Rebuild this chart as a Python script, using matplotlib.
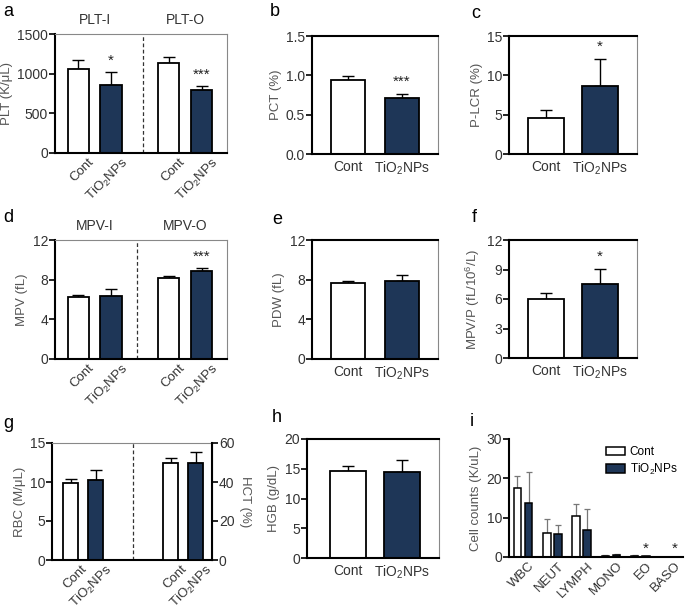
import matplotlib
matplotlib.use("Agg")
import matplotlib.pyplot as plt
import matplotlib.transforms as mtrans
import numpy as np

plt.rcParams['font.family'] = ['Liberation Sans', 'DejaVu Sans']
plt.rcParams['mathtext.fontset'] = 'custom'
plt.rcParams['mathtext.rm'] = 'Liberation Sans'
plt.rcParams['mathtext.it'] = 'Liberation Sans:italic'
plt.rcParams['mathtext.bf'] = 'Liberation Sans:bold'

# ---------------- data ----------------
groups = ['Cont', r'TiO$_2$NPs']

plt_i_mean = [1060, 860]; plt_i_err = [110, 160]
plt_o_mean = [1130, 790]; plt_o_err = [80, 50]
pct_mean = [0.94, 0.71]; pct_err = [0.05, 0.05]
plcr_mean = [4.6, 8.7]; plcr_err = [1.0, 3.4]
mpv_i_mean = [6.3, 6.4]; mpv_i_err = [0.15, 0.7]
mpv_o_mean = [8.2, 8.9]; mpv_o_err = [0.2, 0.25]
pdw_mean = [7.7, 7.9]; pdw_err = [0.2, 0.6]
mpvp_mean = [5.95, 7.55]; mpvp_err = [0.7, 1.55]
rbc_mean = [9.9, 10.3]; rbc_err = [0.5, 1.3]
hct_mean = [50.0, 49.6]; hct_err = [2.2, 5.8]
hgb_mean = [14.7, 14.5]; hgb_err = [0.8, 1.9]

cell_types = ['WBC', 'NEUT', 'LYMPH', 'MONO', 'EO', 'BASO']
cells_cont = [17.5, 6.0, 10.5, 0.2, 0.3, 0.02]
cells_cont_err = [3.2, 3.6, 3.1, 0.2, 0.1, 0.02]
cells_tio2 = [13.8, 5.9, 6.8, 0.4, 0.2, 0.01]
cells_tio2_err = [7.8, 2.2, 5.3, 0.4, 0.1, 0.01]

NAVY = '#1e3657'
GRAY_TXT = '#555555'
TICK_FS = 10
LAB_FS = 9.5
W, H = 685, 615
fig = plt.figure(figsize=(W / 100, H / 100), dpi=100)


def axpx(l, t, r, b):
    return fig.add_axes([l / W, 1 - b / H, (r - l) / W, (b - t) / H])


def style(ax, top_black=True):
    for s in ['left', 'bottom']:
        ax.spines[s].set_linewidth(1.5)
        ax.spines[s].set_color('black')
    if top_black:
        ax.spines['top'].set_linewidth(1.5)
        ax.spines['top'].set_color('black')
    else:
        ax.spines['top'].set_linewidth(0.8)
        ax.spines['top'].set_color('#888888')
    ax.spines['right'].set_linewidth(0.8)
    ax.spines['right'].set_color('#888888')
    ax.tick_params(axis='y', direction='out', length=4, width=1.2,
                   labelsize=TICK_FS, colors='black', labelcolor='#333333', pad=1)
    ax.tick_params(axis='x', length=0, labelsize=TICK_FS, labelcolor='#333333', pad=4)


def rot_labels(ax, labels, dx=7, fs=9.5):
    ax.tick_params(axis='x', pad=2)
    ax.set_xticklabels(labels, rotation=45, ha='right', rotation_mode='anchor', fontsize=fs)
    off = mtrans.ScaledTranslation(dx / 72, 0, fig.dpi_scale_trans)
    for lab in ax.get_xticklabels():
        lab.set_transform(lab.get_transform() + off)


def bars(ax, x, means, errs, colors, width, ecolor='black', capsize=4.3):
    ax.bar(x, means, width=width, color=colors, edgecolor='black',
           linewidth=1.3, zorder=2)
    lower = np.zeros(len(means))
    ax.errorbar(x, means, yerr=[lower, errs], fmt='none', ecolor=ecolor,
                elinewidth=1.0, capsize=capsize, capthick=1.0, zorder=1)


def star(ax, x, y, s):
    ax.text(x, y, s, ha='center', va='bottom', fontsize=11, color='#222222')


def ylab(ax, s):
    ax.set_ylabel(s, fontsize=LAB_FS, color=GRAY_TXT, labelpad=3)


def letter(x, y, s):
    fig.text(x / W, 1 - y / H, s, fontsize=13, ha='left', va='center')


# ---------- a ----------
ax = axpx(55, 34, 227, 153)
xa = [0, 1, 2.75, 3.75]
bars(ax, xa[:2], plt_i_mean, plt_i_err, ['white', NAVY], 0.64)
bars(ax, xa[2:], plt_o_mean, plt_o_err, ['white', NAVY], 0.64)
ax.axvline(1.97, color='#333333', ls=(0, (3, 2)), lw=0.9)
ax.set_xlim(-0.7, 4.52)
ax.set_ylim(0, 1500)
ax.set_yticks([0, 500, 1000, 1500])
style(ax, top_black=False)
ax.set_xticks(xa)
rot_labels(ax, groups * 2)
star(ax, 1, plt_i_mean[1] + plt_i_err[1] + 50, '*')
star(ax, 3.75, plt_o_mean[1] + plt_o_err[1] + 60, '***')
ylab(ax, 'PLT (K/μL)')
ax.text(0.5, 1.06, 'PLT-I', transform=ax.get_xaxis_transform(), ha='center', va='bottom', fontsize=10, color='#333333')
ax.text(3.25, 1.06, 'PLT-O', transform=ax.get_xaxis_transform(), ha='center', va='bottom', fontsize=10, color='#333333')

# ---------- b ----------
ax = axpx(312, 36, 438, 154)
bars(ax, [0, 1], pct_mean, pct_err, ['white', NAVY], 0.63)
ax.set_xlim(-0.67, 1.67); ax.set_ylim(0, 1.5)
ax.set_yticks([0, 0.5, 1.0, 1.5]); ax.set_yticklabels(['0.0', '0.5', '1.0', '1.5'])
style(ax)
ax.set_xticks([0, 1]); ax.set_xticklabels(groups)
star(ax, 1, pct_mean[1] + pct_err[1] + 0.07, '***')
ylab(ax, 'PCT (%)')

# ---------- c ----------
ax = axpx(509, 36, 637, 154)
bars(ax, [0, 1], plcr_mean, plcr_err, ['white', NAVY], 0.66)
ax.set_xlim(-0.69, 1.69); ax.set_ylim(0, 15)
ax.set_yticks([0, 5, 10, 15])
style(ax)
ax.set_xticks([0, 1]); ax.set_xticklabels(groups)
star(ax, 1, plcr_mean[1] + plcr_err[1] + 0.7, '*')
ylab(ax, 'P-LCR (%)')

# ---------- d ----------
ax = axpx(55, 240, 227, 359)
bars(ax, xa[:2], mpv_i_mean, mpv_i_err, ['white', NAVY], 0.64)
bars(ax, xa[2:], mpv_o_mean, mpv_o_err, ['white', NAVY], 0.64)
ax.axvline(1.79, color='#333333', ls=(0, (3, 2)), lw=0.9)
ax.set_xlim(-0.7, 4.52); ax.set_ylim(0, 12)
ax.set_yticks([0, 4, 8, 12])
style(ax, top_black=False)
ax.set_xticks(xa)
rot_labels(ax, groups * 2)
star(ax, 3.75, mpv_o_mean[1] + mpv_o_err[1] + 0.5, '***')
ylab(ax, 'MPV (fL)')
ax.text(0.5, 1.06, 'MPV-I', transform=ax.get_xaxis_transform(), ha='center', va='bottom', fontsize=10, color='#333333')
ax.text(3.25, 1.06, 'MPV-O', transform=ax.get_xaxis_transform(), ha='center', va='bottom', fontsize=10, color='#333333')

# ---------- e ----------
ax = axpx(312, 240, 438, 359)
bars(ax, [0, 1], pdw_mean, pdw_err, ['white', NAVY], 0.63)
ax.set_xlim(-0.67, 1.67); ax.set_ylim(0, 12)
ax.set_yticks([0, 4, 8, 12])
style(ax)
ax.set_xticks([0, 1]); ax.set_xticklabels(groups)
ylab(ax, 'PDW (fL)')

# ---------- f ----------
ax = axpx(509, 240, 637, 358)
bars(ax, [0, 1], mpvp_mean, mpvp_err, ['white', NAVY], 0.66)
ax.set_xlim(-0.69, 1.69); ax.set_ylim(0, 12)
ax.set_yticks([0, 3, 6, 9, 12])
style(ax)
ax.set_xticks([0, 1]); ax.set_xticklabels(groups)
star(ax, 1, mpvp_mean[1] + mpvp_err[1] + 0.5, '*')
ylab(ax, r'MPV/P (fL/10$^6$/L)')

# ---------- g ----------
ax = axpx(52, 443, 212, 560)
xg = [0, 1, 4, 5]
bars(ax, xg[:2], rbc_mean, rbc_err, ['white', NAVY], 0.6)
ax.axvline(2.5, color='#333333', ls=(0, (3, 2)), lw=0.9)
ax.set_xlim(-0.74, 5.66); ax.set_ylim(0, 15)
ax.set_yticks([0, 5, 10, 15])
style(ax, top_black=False)
ax.set_xticks(xg)
rot_labels(ax, groups * 2)
ylab(ax, 'RBC (M/μL)')
ax2 = ax.twinx()
bars(ax2, xg[2:], hct_mean, hct_err, ['white', NAVY], 0.6)
ax2.set_ylim(0, 60); ax2.set_yticks([0, 20, 40, 60])
for s in ['left', 'top', 'bottom']:
    ax2.spines[s].set_visible(False)
ax2.spines['right'].set_linewidth(1.5)
ax2.spines['right'].set_color('black')
ax2.tick_params(axis='y', direction='out', length=4, width=1.2,
                labelsize=TICK_FS, labelcolor='#333333', pad=1)
ax2.set_ylabel('HCT (%)', rotation=270, fontsize=LAB_FS, color=GRAY_TXT, labelpad=12)

# ---------- h ----------
ax = axpx(307, 439, 439, 558)
bars(ax, [0, 1], hgb_mean, hgb_err, ['white', NAVY], 0.66)
ax.set_xlim(-0.76, 1.69); ax.set_ylim(0, 20)
ax.set_yticks([0, 5, 10, 15, 20])
style(ax)
ax.set_xticks([0, 1]); ax.set_xticklabels(groups)
ylab(ax, 'HGB (g/dL)')

# ---------- i ----------
ax = axpx(509, 439, 683, 557)
xi = np.arange(len(cell_types))
off = 0.19; bw = 0.26
ax.bar(xi - off, cells_cont, width=bw, color='white', edgecolor='black', linewidth=1.1, zorder=2, label='Cont')
ax.bar(xi + off, cells_tio2, width=bw, color=NAVY, edgecolor='black', linewidth=1.1, zorder=2, label=r'TiO$_2$NPs')
ax.errorbar(xi - off, cells_cont, yerr=[np.zeros(6), cells_cont_err], fmt='none', ecolor='#777777', elinewidth=0.9, capsize=2.5, capthick=0.9, zorder=1)
ax.errorbar(xi + off, cells_tio2, yerr=[np.zeros(6), cells_tio2_err], fmt='none', ecolor='#777777', elinewidth=0.9, capsize=2.5, capthick=0.9, zorder=1)
ax.set_xlim(-0.48, 5.46); ax.set_ylim(0, 30)
ax.set_yticks([0, 10, 20, 30])
style(ax)
ax.spines['top'].set_visible(False)
ax.spines['right'].set_visible(False)
ax.set_xticks(xi)
rot_labels(ax, cell_types, dx=4)
star(ax, 4 + off, 0.3, '*')
star(ax, 5 + off, 0.3, '*')
ylab(ax, 'Cell counts (K/uL)')
ax.legend(loc='upper right', bbox_to_anchor=(1.03, 1.03), frameon=False, fontsize=8.5,
          handlelength=1.6, handleheight=0.7, handletextpad=0.4, labelspacing=0.3)

# ---------- panel letters ----------
letter(3, 12, 'a'); letter(270, 12, 'b'); letter(471, 13, 'c')
letter(3, 218, 'd'); letter(272, 220, 'e'); letter(472, 218, 'f')
letter(3, 423, 'g'); letter(272, 418, 'h'); letter(470, 421, 'i')

fig.savefig('out.png', dpi=100)
